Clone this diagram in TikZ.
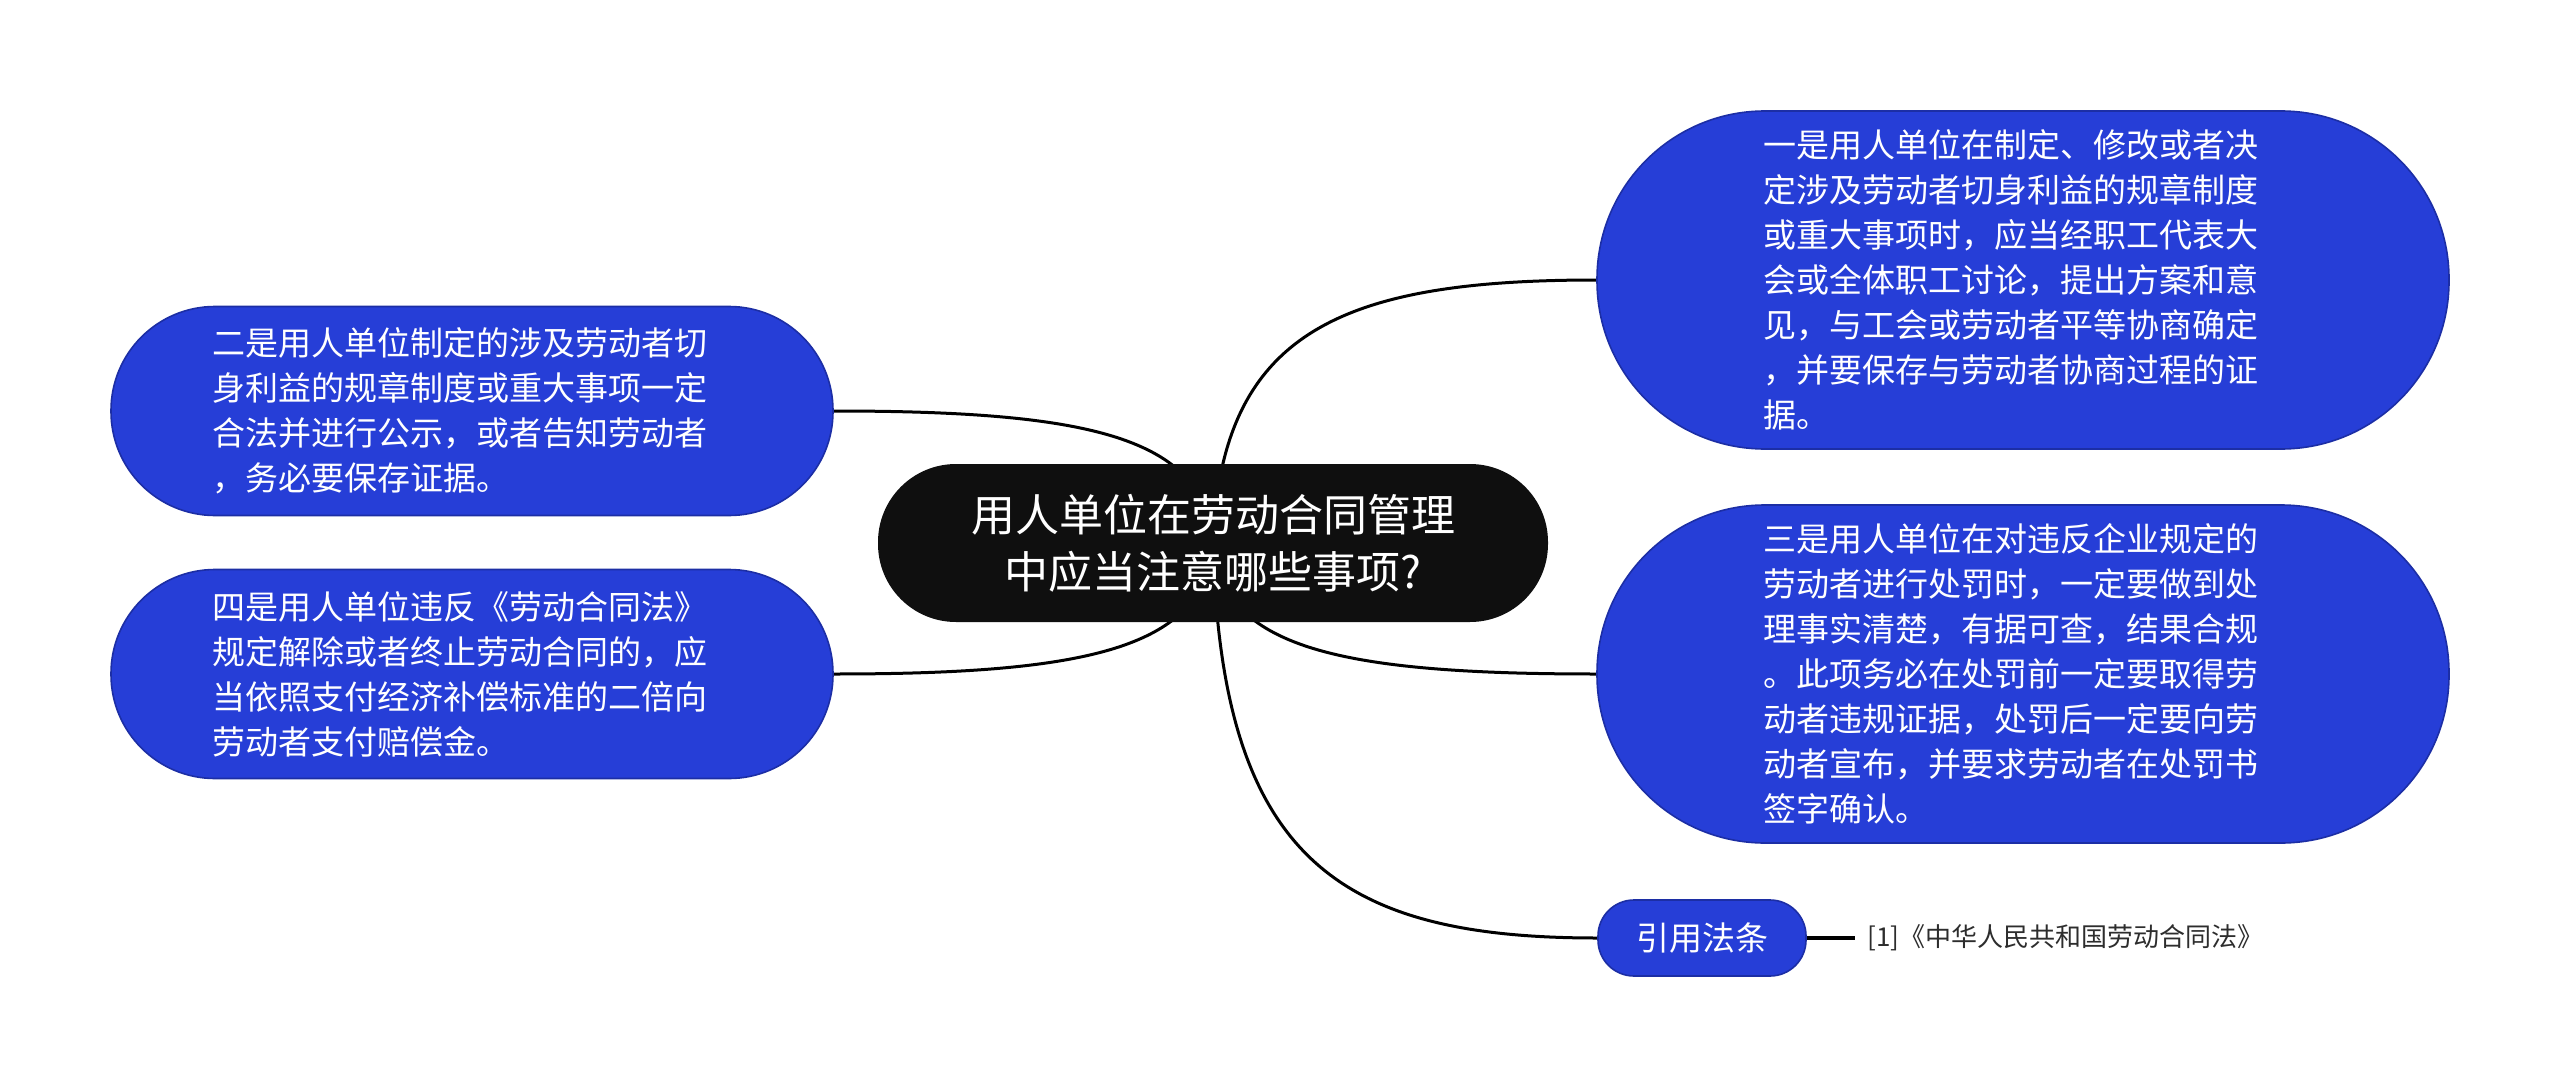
\documentclass[tikz,border=0pt]{standalone}
\usepackage{fontspec}
\setmainfont{Noto Sans CJK SC}
\usetikzlibrary{backgrounds}
\definecolor{nodeblue}{RGB}{38,62,215}
\definecolor{nodeedge}{RGB}{28,46,165}
\definecolor{centerblack}{RGB}{15,15,15}
\definecolor{reftext}{RGB}{45,45,45}
\begin{document}
\begin{tikzpicture}[x=0.5pt,y=-0.5pt,
  bluebox/.style={draw=nodeedge, line width=0.8pt, fill=nodeblue, text=white,
    font=\fontsize{16.5pt}{22.5pt}\selectfont, align=left, inner sep=0pt},
  bigbox/.style={bluebox, minimum width=426pt, minimum height=169pt, rounded corners=84pt, text width=260pt},
  sidebox/.style={bluebox, minimum width=361pt, minimum height=104.5pt, rounded corners=52pt, text width=260pt},
  rootbox/.style={fill=centerblack, text=white, font=\fontsize{22pt}{28.5pt}\selectfont, align=center,
    minimum width=335pt, minimum height=79pt, rounded corners=39pt, inner sep=0pt},
  smallbox/.style={bluebox, align=center, minimum width=104pt, minimum height=38pt, rounded corners=18pt},
  reflabel/.style={text=reftext, font=\fontsize{13pt}{15pt}\selectfont, inner sep=0pt},
  link/.style={line width=1.5pt, black}]
\useasboundingbox (0,0) rectangle (2560,1086);

\node[rootbox] (c) at (1213,543) {用人单位在劳动合同管理\\中应当注意哪些事项?};

\node[bigbox] (rt) at (2023,280) {一是用人单位在制定、修改或者决\\定涉及劳动者切身利益的规章制度\\或重大事项时，应当经职工代表大\\会或全体职工讨论，提出方案和意\\见，与工会或劳动者平等协商确定\\，并要保存与劳动者协商过程的证\\据。};

\node[bigbox] (rm) at (2023,674) {三是用人单位在对违反企业规定的\\劳动者进行处罚时，一定要做到处\\理事实清楚，有据可查，结果合规\\。此项务必在处罚前一定要取得劳\\动者违规证据，处罚后一定要向劳\\动者宣布，并要求劳动者在处罚书\\签字确认。};

\node[sidebox] (lt) at (472,411) {二是用人单位制定的涉及劳动者切\\身利益的规章制度或重大事项一定\\合法并进行公示，或者告知劳动者\\，务必要保存证据。};

\node[sidebox] (lb) at (472,674) {四是用人单位违反《劳动合同法》\\规定解除或者终止劳动合同的，应\\当依照支付经济补偿标准的二倍向\\劳动者支付赔偿金。};

\node[smallbox] (law) at (1702,938) {引用法条};

\node[reflabel, anchor=west] (ref) at (1867,938) {[1]《中华人民共和国劳动合同法》};
\coordinate (refend) at (1855,938);

\begin{scope}[on background layer]
\fill[white] (0,0) rectangle (2560,1086);
\draw[link] (c.center) .. controls +(8,-210) and +(-257,0) .. (rt.west);
\draw[link] (c.center) .. controls +(8,105) and +(-257,0) .. (rm.west);
\draw[link] (c.center) .. controls +(8,316) and +(-258,0) .. (law.west);
\draw[link] (c.center) .. controls +(-8,-106) and +(255,0) .. (lt.east);
\draw[link] (c.center) .. controls +(-8,105) and +(255,0) .. (lb.east);
\draw[link, line width=2pt] (law.east) -- (refend);
\end{scope}
\end{tikzpicture}
\end{document}
